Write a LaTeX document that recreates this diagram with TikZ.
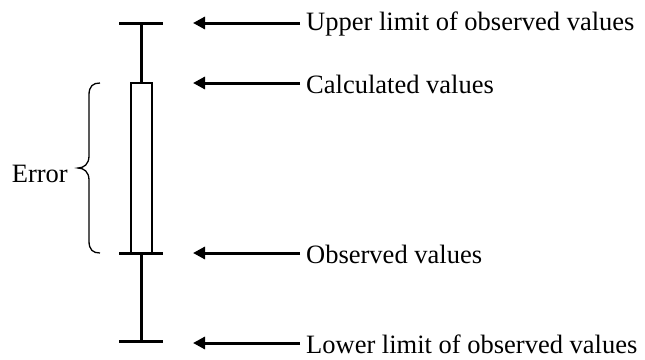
\documentclass[tikz,border=0pt]{standalone}
\usepackage{fontspec}
\setmainfont{Liberation Serif}
\usetikzlibrary{arrows.meta}
\begin{document}
\begin{tikzpicture}[x=1pt,y=-1pt,
  bar/.style={line width=3pt},
  arr/.style={line width=3pt,-{Triangle[length=12pt,width=12pt]}},
  lbl/.style={anchor=west,inner sep=0pt,font=\fontsize{26.5}{28}\selectfont},
  brc/.style={line width=1.3pt}]
\useasboundingbox (0,0) rectangle (645,359);
% whisker
\coordinate (top) at (141,23);
\coordinate (bot) at (141,341);
\draw[bar] (119,23) -- (163,23);
\draw[bar] (119,253) -- (163,253);
\draw[bar] (119,341) -- (163,341);
\draw[bar] (top) -- (141,83);
\draw[bar] (141,253) -- (bot);
\node[draw,line width=2pt,minimum width=21pt,minimum height=170pt,inner sep=0pt] (box) at (141.5,168) {};
% labels
\node[lbl] (u) at (306,24) {Upper limit of observed values};
\node[lbl] (c) at (306,84) {Calculated values};
\node[lbl] (o) at (306,254) {Observed values};
\node[lbl] (l) at (306,344) {Lower limit of observed values};
\coordinate (ua) at (193,23);
\coordinate (ca) at (193,83);
\coordinate (oa) at (193,253);
\coordinate (la) at (193,343);
\draw[arr] (ua -| 300,0) -- (ua);
\draw[arr] (ca -| 300,0) -- (ca);
\draw[arr] (oa -| 300,0) -- (oa);
\draw[arr] (la -| 300,0) -- (la);
% brace
\draw[brc] (100,83) .. controls (93,83) and (89,86) .. (89,95) -- (89,156)
  .. controls (89,164) and (84,168) .. (78,168)
  .. controls (84,168) and (89,172) .. (89,180) -- (89,241)
  .. controls (89,250) and (93,253) .. (100,253);
\node[lbl,anchor=east] (e) at (68,174) {Error};
\end{tikzpicture}
\end{document}
